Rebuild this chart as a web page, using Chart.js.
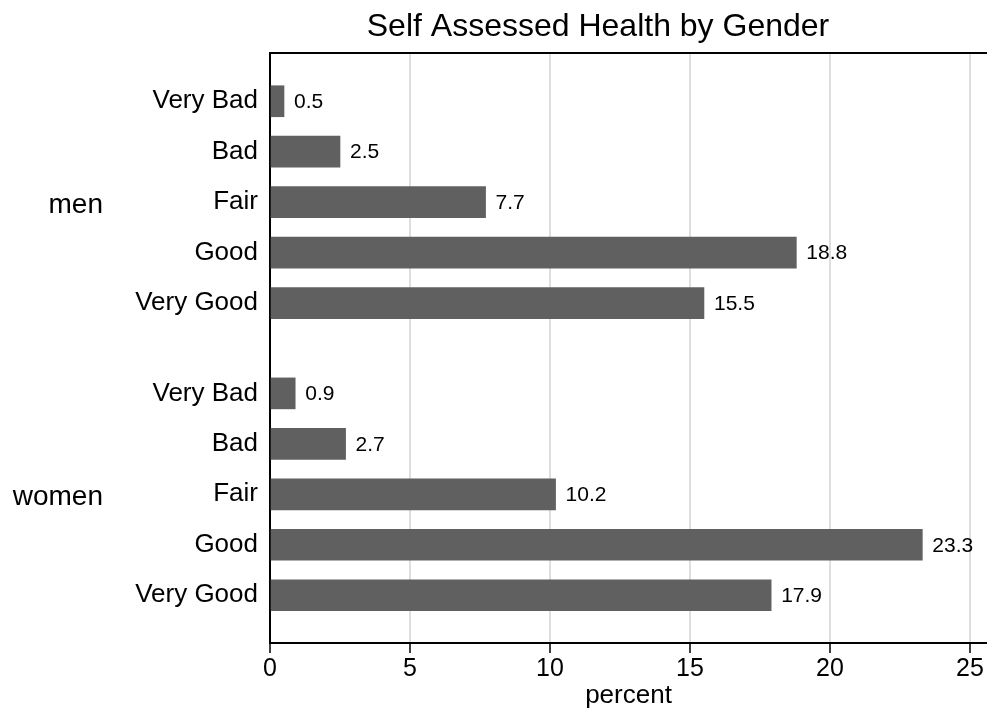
<!DOCTYPE html>
<html>
<head>
<meta charset="utf-8">
<script src="https://cdn.jsdelivr.net/npm/chart.js@4"></script>
<style>
  html, body { margin: 0; padding: 0; background: #fff; }
  #wrap { width: 987px; height: 713px; }
</style>
</head>
<body>
<div id="wrap"><canvas id="chart"></canvas></div>
<script>
// self assessed health, percent by gender. horizontal bars, stata look.

const titleText = "Self Assessed Health by Gender";
const groups = ["men", "women"];
const categories = ["Very Bad", "Bad", "Fair", "Good", "Very Good"];
const menValues = [0.5, 2.5, 7.7, 18.8, 15.5];
const womenValues = [0.9, 2.7, 10.2, 23.3, 17.9];
const xTicks = [0, 5, 10, 15, 20, 25];
const xTitle = "percent";

const FONT = "'Liberation Sans', Arial, Helvetica, sans-serif";
const BAR = "#606060";
const GROUP_STEP = 5.79; // men block + gap, in row units

// row position on the (reversed) y scale
const rowPos = (g, i) => g * GROUP_STEP + i;

const yTicks = [];
const yLabels = {};
groups.forEach((g, gi) => {
  categories.forEach((c, i) => {
    const p = rowPos(gi, i);
    yTicks.push(p);
    yLabels[p.toFixed(3)] = c;
  });
});

const toPoints = (vals, gi) => vals.map((v, i) => ({ x: v, y: rowPos(gi, i) }));

Chart.defaults.font.family = FONT;
Chart.defaults.color = "#000";

const extras = {
  id: "extras",
  afterDatasetsDraw(chart) {
    const ctx = chart.ctx;
    ctx.save();
    ctx.fillStyle = "#000";
    ctx.font = "21px " + FONT;
    ctx.textAlign = "left";
    ctx.textBaseline = "middle";
    chart.data.datasets.forEach((ds, d) => {
      chart.getDatasetMeta(d).data.forEach((bar, i) => {
        ctx.fillText(ds.data[i].x.toFixed(1), bar.x + 10, bar.y + 1);
      });
    });
    ctx.restore();
  },
  afterDraw(chart) {
    const { ctx, chartArea, scales } = chart;
    ctx.save();
    // top frame line
    ctx.strokeStyle = "#000";
    ctx.lineWidth = 2;
    ctx.beginPath();
    ctx.moveTo(chartArea.left, chartArea.top);
    ctx.lineTo(chartArea.right, chartArea.top);
    ctx.stroke();

    // title
    ctx.fillStyle = "#000";
    ctx.font = "32px " + FONT;
    ctx.textAlign = "center";
    ctx.textBaseline = "alphabetic";
    ctx.fillText(titleText, 598, 36);

    // group labels, level with the middle row
    ctx.font = "28px " + FONT;
    ctx.textAlign = "right";
    groups.forEach((g, gi) => {
      const y = scales.y.getPixelForValue(rowPos(gi, 2));
      ctx.fillText(g, 103, y + 11);
    });
    ctx.restore();
  },
};

new Chart(document.getElementById("chart"), {
  type: "bar",
  data: {
    datasets: [
      { label: groups[0], data: toPoints(menValues, 0), backgroundColor: BAR },
      { label: groups[1], data: toPoints(womenValues, 1), backgroundColor: BAR },
    ],
  },
  options: {
    indexAxis: "y",
    responsive: true,
    maintainAspectRatio: false,
    animation: false,
    grouped: false,
    barThickness: 31,
    layout: { padding: { top: 53, left: 0, right: 0, bottom: 0 } },
    plugins: {
      legend: { display: false },
      tooltip: { enabled: false },
      title: { display: false },
    },
    scales: {
      x: {
        type: "linear",
        position: "bottom",
        min: 0,
        max: 25.61,
        offset: false,
        afterBuildTicks: (s) => { s.ticks = xTicks.map((v) => ({ value: v })); },
        afterFit: (s) => { s.height = 70; },
        grid: {
          color: (c) => (c.tick && c.tick.value === 0 ? "rgba(0,0,0,0)" : "#dedede"),
          lineWidth: 2,
          tickLength: 10,
          tickColor: "#000",
          tickWidth: 1.5,
        },
        border: { color: "#000", width: 2 },
        ticks: { color: "#000", font: { size: 25 }, padding: 1, maxRotation: 0, autoSkip: false },
        title: { display: true, text: xTitle, color: "#000", font: { size: 26 }, padding: { top: 0, bottom: 2 } },
      },
      y: {
        type: "linear",
        reverse: true,
        min: -0.956,
        max: 10.737,
        offset: false,
        grace: 0,
        afterBuildTicks: (s) => { s.ticks = yTicks.map((v) => ({ value: v })); },
        afterFit: (s) => { s.width = 270; },
        grid: { display: false, drawTicks: false },
        border: { color: "#000", width: 2 },
        ticks: {
          color: "#000",
          font: { size: 26 },
          padding: 12,
          autoSkip: false,
          callback: (v) => yLabels[Number(v).toFixed(3)] || "",
        },
      },
    },
  },
  plugins: [extras],
});
</script>
</body>
</html>
